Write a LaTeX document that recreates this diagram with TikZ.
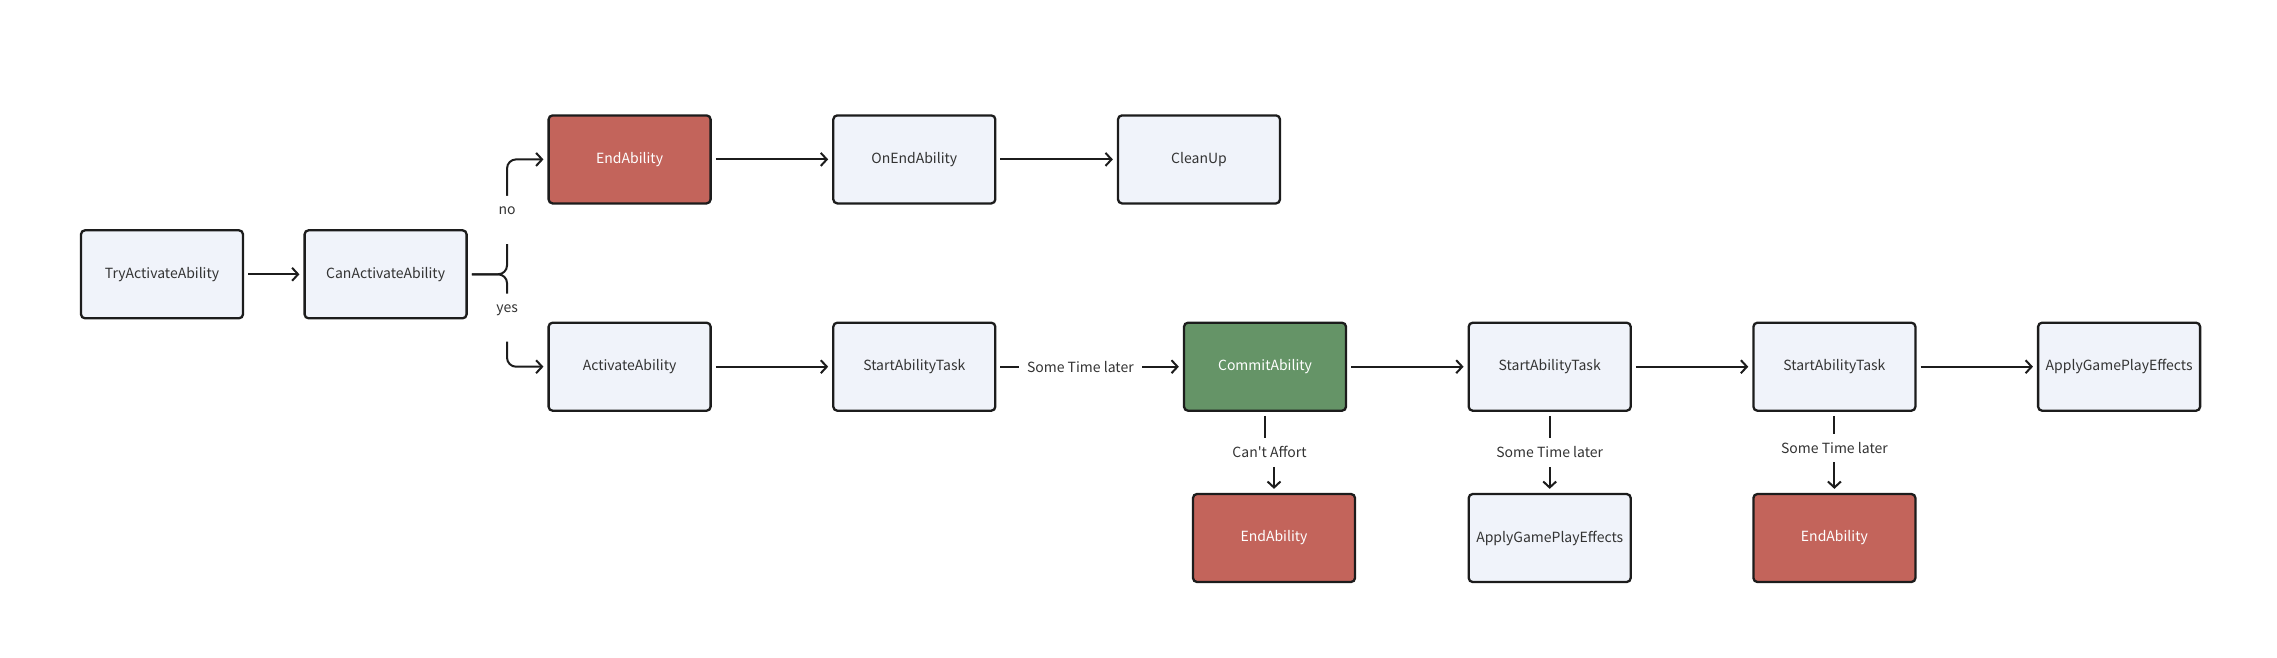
\documentclass[tikz,border=0pt]{standalone}
\usepackage{fontspec}
\setmainfont{Noto Sans CJK SC}
\usepackage{tikz}
\usetikzlibrary{positioning,arrows.meta,calc}

\definecolor{boxfill}{HTML}{F0F3FA}
\definecolor{endred}{HTML}{C3645B}
\definecolor{commitgreen}{HTML}{659467}
\definecolor{edgeblack}{HTML}{1C1C1C}
\definecolor{txtgray}{HTML}{333333}

\begin{document}
\begin{tikzpicture}[
      box/.style={
        draw=edgeblack, line width=2.3pt, fill=boxfill, text=txtgray,
        font=\fontsize{14}{17}\selectfont,
        minimum width=162pt, minimum height=88pt, rounded corners=4pt
      },
      endbox/.style={box, fill=endred, text=white},
      commitbox/.style={box, fill=commitgreen, text=white},
      lbl/.style={fill=white, text=txtgray, font=\fontsize{14}{17}\selectfont, inner sep=8.5pt},
      forklbl/.style={lbl, inner ysep=3pt, text height=16pt, text depth=26pt},
      link/.style={draw=edgeblack, line width=2pt, shorten <=4pt, shorten >=4pt},
      >={Straight Barb[length=6pt,width=13pt]}
      ]
      \useasboundingbox (0,0) rectangle (2277pt,-657pt);

      \node[box]                                (try)    at (162pt,-274.3pt) {TryActivateAbility};
      \node[box, right=59.3pt of try]           (can)    {CanActivateAbility};
      \node[box, right=79.7pt of can, yshift=-92.4pt] (act) {ActivateAbility};
      \node[endbox, above=117pt of act]         (end1)   {EndAbility};
      \node[box, right=120.4pt of end1]         (onend)  {OnEndAbility};
      \node[box, right=120.4pt of onend]        (clean)  {CleanUp};
      \node[box, right=120.4pt of act]          (task1)  {StartAbilityTask};
      \node[commitbox, right=186.4pt of task1]  (commit) {CommitAbility};
      \node[box, right=120.4pt of commit]       (task2)  {StartAbilityTask};
      \node[box, right=120.4pt of task2]        (task3)  {StartAbilityTask};
      \node[box, right=120.4pt of task3]        (apply1) {ApplyGamePlayEffects};
      \node[endbox, below=81pt of commit, xshift=9pt] (end2) {EndAbility};
      \node[box, below=81pt of task2]           (apply2) {ApplyGamePlayEffects};
      \node[endbox, below=81pt of task3]        (end3)   {EndAbility};
      \coordinate[right=39.3pt of can] (fork);
      \node[lbl] (cant) at ($(commit.south)!0.5!(end2.north)$) {Can\textquotesingle t Affort};

  % Connect the nodes
  \draw[link, ->] (try) -- (can);
  \draw[link, ->, rounded corners=9pt] (can) -- (fork) |- node[forklbl, pos=0.237] {no} (end1);
  \draw[link, ->, rounded corners=9pt] (can) -- (fork) |- node[forklbl, pos=0.234] {yes} (act);
  \draw[link, ->] (end1) -- (onend);
  \draw[link, ->] (onend) -- (clean);
  \draw[link, ->] (act) -- (task1);
  \draw[link, ->] (task1) -- node[lbl, pos=0.45] {Some Time later} (commit);
  \draw[link, ->] (commit) -- (task2);
  \draw[link, ->] (task2) -- (task3);
  \draw[link, ->] (task3) -- (apply1);
  \draw[link, shorten >=0pt] (commit) -- (commit |- cant.north);
  \draw[link, ->, shorten <=0pt] (end2 |- cant.south) -- (end2);
  \draw[link, ->] (task2) -- node[lbl] {Some Time later} (apply2);
  \draw[link, ->] (task3) -- node[lbl, pos=0.45] {Some Time later} (end3);

\end{tikzpicture}
\end{document}
